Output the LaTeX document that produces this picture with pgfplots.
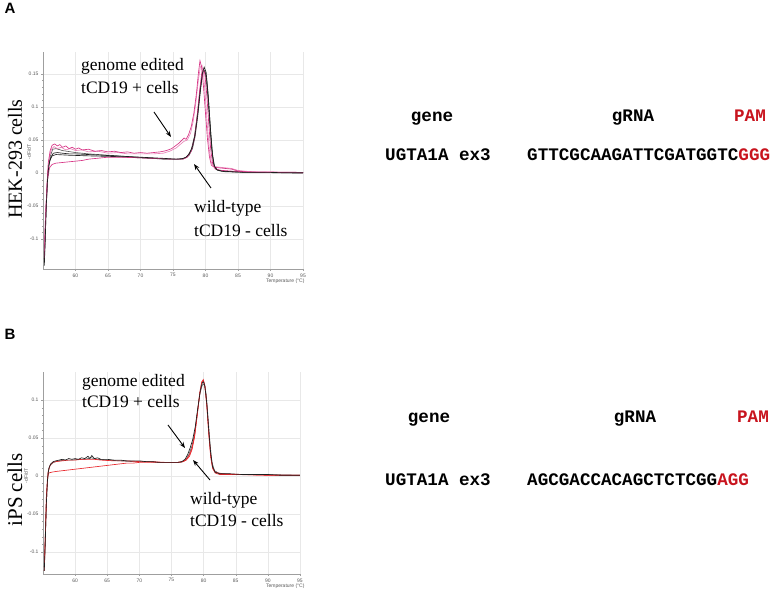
\documentclass[border=0pt]{standalone}
\usepackage{fontspec}
\setmainfont{Liberation Serif}
\setsansfont{Liberation Sans}
\setmonofont{Liberation Mono}
\usepackage{pgfplots}
\pgfplotsset{compat=1.18}
\usetikzlibrary{arrows.meta}
\definecolor{cWT}{HTML}{1F1F1F}
\definecolor{cWTgray}{HTML}{5A5A5A}
\definecolor{cEdit}{HTML}{D63384}
\definecolor{cEditLight}{HTML}{E884B8}
\definecolor{cRed}{HTML}{E8262B}
\definecolor{cPam}{HTML}{C8141E}
\newcommand{\tickfont}{\fontsize{5}{5.5}\sffamily}
\newcommand{\notefont}{\fontsize{17.5}{20}\rmfamily}
\newcommand{\seqfont}{\fontsize{17.6}{20}\ttfamily\bfseries}
\pgfplotsset{
  melt/.style={
    scale only axis,
    axis x line=bottom, axis y line=left,
    axis line style={-, gray!75, line width=0.5pt},
    tick align=outside,
    major tick length=2pt, minor tick length=1pt,
    tick style={gray!75, line width=0.3pt},
    xmin=55, xmax=95,
    xtick={60,65,...,95},
    minor x tick num=4, minor y tick num=4,
    grid=major,
    major grid style={gray!18, line width=0.3pt},
    tick label style={font=\tickfont, text=black!65},
    xticklabel style={yshift=1pt},
    yticklabel style={xshift=1pt},
    /pgf/number format/assume math mode=true,
    clip=true,
  },
}

\begin{document}
\begin{tikzpicture}[x=1pt, y=1pt]
\useasboundingbox (0,0) rectangle (771,589);

% ---- panel A : HEK-293 ----
\begin{axis}[
  melt,
  at={(43pt,320pt)}, anchor=south west,
  width=260pt, height=217pt,
  ymin=-0.145, ymax=0.183,
  ytick={-0.1,-0.05,0,0.05,0.1,0.15},
  yticklabels={-0.1,-0.05,0,0.05,0.1,0.15},
]
\addplot[cWTgray, line width=0.65pt] coordinates {
 (55.2,-0.135)(55.4,-0.08)(55.6,-0.03)(55.8,0.005)(56.1,0.025)(56.5,0.036)(57,0.037)(58,0.034)(60,0.031)(62,0.029)(65,0.027)(68,0.025)(71,0.023)(74,0.021)(76,0.021)(77,0.023)(77.5,0.027)(78,0.037)(78.4,0.055)(78.8,0.085)(79.2,0.122)(79.5,0.148)(79.7,0.156)(80,0.150)(80.3,0.122)(80.6,0.080)(80.9,0.040)(81.2,0.015)(81.6,0.006)(82.5,0.003)(85,0.002)(90,0.001)(95,0.001)
};
\addplot[cWT, line width=0.65pt] coordinates {
 (55.2,-0.13)(55.4,-0.07)(55.7,-0.005)(56,0.018)(56.4,0.026)(57,0.028)(59,0.027)(62,0.026)(66,0.025)(70,0.023)(74,0.021)(76.5,0.021)(77.2,0.025)(77.8,0.035)(78.3,0.055)(78.8,0.092)(79.2,0.128)(79.6,0.152)(79.9,0.155)(80.2,0.140)(80.5,0.105)(80.8,0.062)(81.1,0.026)(81.4,0.010)(81.9,0.004)(83,0.002)(87,0.001)(95,0)
};
\addplot[cEdit, line width=0.65pt] coordinates {
 (55.2,-0.12)(55.4,-0.06)(55.7,-0.01)(56,0.008)(56.4,0.013)(57,0.015)(58,0.016)(59,0.017)(60,0.018)(61,0.019)(62,0.021)(63,0.022)(64,0.023)(65,0.024)(67,0.024)(70,0.023)(73,0.022)(75,0.021)(76.5,0.021)(77.2,0.024)(77.8,0.033)(78.3,0.052)(78.7,0.085)(79.1,0.125)(79.4,0.150)(79.65,0.158)(79.9,0.150)(80.2,0.118)(80.5,0.075)(80.8,0.036)(81.1,0.014)(81.5,0.006)(82.5,0.004)(84,0.003)(86,0.002)(95,0.001)
};
\addplot[cEditLight, line width=0.65pt] coordinates {
 (55.2,-0.125)(55.4,-0.065)(55.7,-0.005)(56,0.025)(56.3,0.036)(56.7,0.040)(57.2,0.037)(57.8,0.039)(58.5,0.035)(59.2,0.037)(60,0.034)(61,0.035)(62,0.032)(63.5,0.033)(65,0.030)(66.5,0.031)(68,0.029)(70,0.029)(72,0.029)(73.5,0.030)(74.5,0.033)(75.5,0.038)(76.2,0.044)(76.7,0.048)(77.2,0.050)(77.7,0.060)(78.1,0.078)(78.5,0.105)(78.9,0.140)(79.2,0.160)(79.45,0.163)(79.7,0.150)(80,0.112)(80.3,0.070)(80.6,0.035)(80.9,0.016)(81.3,0.010)(82,0.009)(83,0.008)(84,0.007)(85,0.004)(87,0.002)(95,0.001)
};
\addplot[cEdit, line width=0.65pt] coordinates {
 (55.2,-0.13)(55.4,-0.07)(55.6,-0.02)(55.8,0.015)(56.1,0.034)(56.4,0.042)(56.8,0.044)(57.2,0.041)(57.6,0.043)(58,0.039)(58.5,0.041)(59,0.037)(59.5,0.039)(60,0.036)(60.5,0.038)(61,0.035)(62,0.036)(63,0.033)(64,0.034)(65,0.032)(66,0.033)(67,0.031)(68,0.032)(69,0.030)(70,0.031)(71,0.030)(72,0.031)(73,0.032)(74,0.034)(74.8,0.037)(75.5,0.042)(76,0.046)(76.4,0.050)(76.7,0.053)(77,0.051)(77.4,0.058)(77.8,0.070)(78.2,0.090)(78.6,0.120)(78.9,0.150)(79.15,0.170)(79.4,0.160)(79.7,0.130)(80,0.090)(80.3,0.052)(80.6,0.025)(80.9,0.012)(81.3,0.009)(82,0.008)(83,0.007)(84,0.006)(85,0.003)(86,0.002)(88,0.001)(90,0.001)(95,0.0005)
};
\addplot[cWT, line width=0.65pt] coordinates {
 (55.2,-0.140)(55.35,-0.10)(55.5,-0.05)(55.7,-0.01)(55.9,0.012)(56.2,0.024)(56.6,0.030)(57.2,0.031)(58,0.030)(59,0.029)(60,0.029)(62,0.028)(64,0.027)(66,0.026)(68,0.025)(70,0.024)(72,0.023)(74,0.022)(75.5,0.021)(76.5,0.022)(77,0.024)(77.5,0.029)(78,0.040)(78.4,0.058)(78.8,0.088)(79.2,0.125)(79.5,0.150)(79.8,0.160)(80.1,0.152)(80.4,0.120)(80.7,0.075)(81,0.035)(81.3,0.012)(81.7,0.005)(82.5,0.003)(84,0.002)(86,0.001)(88,0.001)(90,0.001)(92,0.0005)(95,0.0005)
};
\end{axis}

% ---- panel B : iPS ----
\begin{axis}[
  melt,
  at={(43pt,15pt)}, anchor=south west,
  width=257pt, height=202pt,
  ymin=-0.129, ymax=0.137,
  ytick={-0.1,-0.05,0,0.05,0.1},
  yticklabels={-0.1,-0.05,0,0.05,0.1},
]
\addplot[cWTgray, line width=0.65pt] coordinates {
 (55.2,-0.12)(55.4,-0.07)(55.6,-0.02)(55.8,0.005)(56.1,0.014)(56.6,0.018)(57.5,0.020)(58.5,0.021)(59.5,0.021)(60.5,0.022)(61.5,0.022)(62.5,0.024)(63.5,0.022)(65,0.021)(67,0.020)(69,0.019)(71,0.019)(73,0.018)(75,0.018)(76.5,0.018)(77.2,0.021)(77.7,0.028)(78.2,0.040)(78.6,0.056)(79,0.082)(79.4,0.108)(79.8,0.120)(80.1,0.121)(80.4,0.108)(80.7,0.076)(81,0.042)(81.3,0.018)(81.7,0.007)(82.5,0.003)(85,0.002)(90,0.002)(95,0.001)
};
\addplot[cRed, line width=0.65pt] coordinates {
 (55.2,-0.12)(55.35,-0.08)(55.5,-0.03)(55.7,-0.002)(55.9,0.004)(56.3,0.005)(57,0.006)(58,0.007)(59,0.008)(60,0.009)(61,0.010)(62,0.011)(63,0.012)(64,0.013)(65,0.014)(66,0.015)(67,0.016)(68,0.017)(69,0.017)(70,0.018)(71,0.018)(72,0.018)(73,0.018)(74,0.018)(75,0.018)(76,0.018)(76.8,0.019)(77.3,0.021)(77.8,0.026)(78.2,0.035)(78.6,0.052)(79,0.080)(79.4,0.108)(79.7,0.123)(79.95,0.127)(80.2,0.119)(80.5,0.092)(80.8,0.055)(81.1,0.025)(81.4,0.010)(81.8,0.004)(82.5,0.002)(85,0.002)(90,0.001)(95,0.001)
};
\addplot[cRed, line width=0.65pt] coordinates {
 (55.2,-0.125)(55.4,-0.07)(55.6,-0.02)(55.8,0.006)(56.1,0.014)(56.5,0.018)(57,0.019)(58,0.020)(59,0.021)(60,0.021)(61,0.022)(62,0.022)(63,0.022)(64,0.021)(66,0.020)(68,0.020)(70,0.019)(72,0.019)(74,0.018)(76,0.018)(76.8,0.019)(77.3,0.022)(77.8,0.028)(78.2,0.037)(78.6,0.053)(79,0.080)(79.4,0.110)(79.7,0.124)(79.95,0.126)(80.2,0.118)(80.5,0.093)(80.8,0.057)(81.1,0.027)(81.4,0.011)(81.8,0.005)(83,0.003)(86,0.002)(90,0.001)(95,0.001)
};
\addplot[cWT, line width=0.65pt] coordinates {
 (55.2,-0.125)(55.35,-0.09)(55.5,-0.04)(55.7,-0.005)(55.9,0.010)(56.2,0.016)(56.6,0.019)(57,0.020)(57.5,0.021)(58,0.022)(58.5,0.021)(59,0.023)(59.5,0.022)(60,0.023)(60.5,0.022)(61,0.024)(61.5,0.023)(62,0.026)(62.3,0.023)(62.6,0.027)(63,0.023)(63.5,0.024)(64,0.022)(65,0.022)(66,0.021)(67,0.021)(68,0.020)(69,0.020)(70,0.020)(71,0.019)(72,0.019)(73,0.018)(74,0.018)(75,0.018)(76,0.018)(76.6,0.019)(77.1,0.022)(77.5,0.028)(77.9,0.037)(78.3,0.048)(78.7,0.065)(79.1,0.090)(79.5,0.113)(79.8,0.123)(80,0.124)(80.2,0.118)(80.5,0.095)(80.8,0.060)(81.1,0.030)(81.4,0.012)(81.8,0.005)(82.5,0.003)(84,0.003)(86,0.002)(88,0.002)(90,0.002)(92,0.001)(95,0.001)
};
\end{axis}

% panel letters
\node[font=\fontsize{15}{15}\sffamily\bfseries, anchor=base west] at (1,575) {A};
\node[font=\fontsize{15}{15}\sffamily\bfseries, anchor=base west] at (1,249) {B};

% row labels
\node[font=\fontsize{20}{20}\rmfamily, rotate=90] at (15,430) {HEK-293 cells};
\node[font=\fontsize{21}{21}\rmfamily, rotate=90] at (15,99) {iPS cells};

% small axis titles
\node[font=\tickfont, text=black!65, rotate=90] at (29,437) {-dF/dT};
\node[font=\tickfont, text=black!65, rotate=90] at (26,113) {-dF/dT};
\node[font=\tickfont, text=black!65, anchor=east] at (308,308) {Temperature (°C)};
\node[font=\tickfont, text=black!65, anchor=east] at (308,3) {Temperature (°C)};

% annotations, panel A
\node[font=\notefont, anchor=base west, inner sep=0pt] at (81,518) {genome edited};
\node[font=\notefont, anchor=base west, inner sep=0pt] at (81,495) {tCD19 + cells};
\node[font=\notefont, anchor=base west, inner sep=0pt] at (194,376) {wild-type};
\node[font=\notefont, anchor=base west, inner sep=0pt] at (194,352) {tCD19 - cells};
\draw[-{Stealth[length=6pt,width=4.5pt]}, line width=0.9pt] (154,477) -- (171,452);
\draw[-{Stealth[length=6pt,width=4.5pt]}, line width=0.9pt] (211,401) -- (194,425);

% annotations, panel B
\node[font=\notefont, anchor=base west, inner sep=0pt] at (82,202) {genome edited};
\node[font=\notefont, anchor=base west, inner sep=0pt] at (82,181) {tCD19 + cells};
\node[font=\notefont, anchor=base west, inner sep=0pt] at (190,84) {wild-type};
\node[font=\notefont, anchor=base west, inner sep=0pt] at (190,62) {tCD19 - cells};
\draw[-{Stealth[length=6pt,width=4.5pt]}, line width=0.9pt] (168,164) -- (185,141);
\draw[-{Stealth[length=6pt,width=4.5pt]}, line width=0.9pt] (210,109) -- (193,129);

% gRNA tables
\node[font=\seqfont, anchor=base] at (432,467) {gene};
\node[font=\seqfont, anchor=base] at (633,467) {gRNA};
\node[font=\seqfont, anchor=base, text=cPam] at (750,467) {PAM};
\node[font=\seqfont, anchor=base west, inner sep=0pt] at (385,428) {UGTA1A ex3};
\node[font=\seqfont, anchor=base west, inner sep=0pt] at (527,428) {GTTCGCAAGATTCGATGGTC\textcolor{cPam}{GGG}};

\node[font=\seqfont, anchor=base] at (429,166) {gene};
\node[font=\seqfont, anchor=base] at (635,166) {gRNA};
\node[font=\seqfont, anchor=base, text=cPam] at (753,166) {PAM};
\node[font=\seqfont, anchor=base west, inner sep=0pt] at (385,103) {UGTA1A ex3};
\node[font=\seqfont, anchor=base west, inner sep=0pt] at (527,103) {AGCGACCACAGCTCTCGG\textcolor{cPam}{AGG}};
\end{tikzpicture}
\end{document}
